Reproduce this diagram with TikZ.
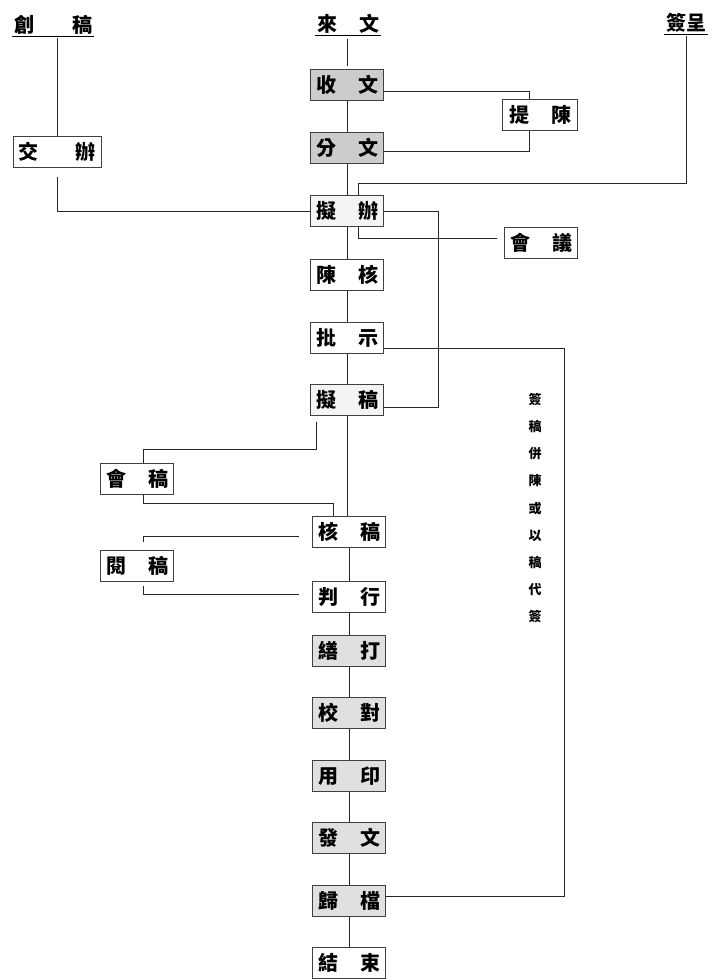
\documentclass[tikz,border=0pt]{standalone}
\usepackage{fontspec}
\setmainfont{Noto Sans CJK TC}
\usetikzlibrary{calc}

\tikzset{
  box/.style={draw=black!75, line width=0.8pt, minimum width=73pt, minimum height=31pt,
              inner sep=0pt, font=\fontsize{20}{20}\selectfont\bfseries},
  head/.style={inner xsep=2pt, inner ysep=1.5pt, font=\fontsize{20}{20}\selectfont\bfseries},
  link/.style={line width=0.7pt, black!85},
  shadeA/.style={fill=gray!40},
  shadeB/.style={fill=gray!24},
  shadeC/.style={fill=gray!9},
}
\newcommand{\pair}[3][22pt]{#2\hspace{#1}#3}

\begin{document}
\begin{tikzpicture}[x=1pt, y=-1pt]
    \useasboundingbox (0,0) rectangle (716,980);

    % ===== 起點 =====
    \node[head] (chuanggao) at (53,25) {\pair[38pt]{創}{稿}};
    \node[head] (laiwen) at (348,24) {\pair{來}{文}};
    \node[head] (qiancheng) at (686,23) {簽呈};
    \foreach \h in {chuanggao,laiwen,qiancheng}
        \draw[line width=1pt] (\h.south west) -- (\h.south east);

    % ===== 主流程 =====
    \node[box, shadeA] (shouwen) at (347,85)  {\pair{收}{文}};
    \node[box, shadeA] (fenwen)  at (347,148) {\pair{分}{文}};
    \node[box, shadeC] (nibian)  at (347,211) {\pair{擬}{辦}};
    \node[box]         (chenhe)  at (347,275) {\pair{陳}{核}};
    \node[box]         (pishi)   at (347,338) {\pair{批}{示}};
    \node[box, shadeC] (nigao)   at (347,400) {\pair{擬}{稿}};
    \node[box]         (hegao)   at (349,532) {\pair{核}{稿}};
    \node[box]         (panxing) at (349,597) {\pair{判}{行}};
    \node[box, shadeB] (shanda)  at (349,651) {\pair{繕}{打}};
    \node[box, shadeB] (jiaodui) at (349,713) {\pair{校}{對}};
    \node[box, shadeB] (yongyin) at (349,776) {\pair{用}{印}};
    \node[box, shadeB] (fawen)   at (349,838) {\pair{發}{文}};
    \node[box, shadeB] (guidang) at (349,901) {\pair{歸}{檔}};
    \node[box]         (jieshu)  at (349,963) {\pair{結}{束}};

    % ===== 旁支 =====
    \node[box, minimum width=88pt] (jiaoban) at (57,152) {\pair[37pt]{交}{辦}};
    \node[box, minimum width=75pt] (tichen)  at (540,115) {\pair{提}{陳}};
    \node[box]                     (huiyi)   at (541,243) {\pair{會}{議}};
    \node[box]                     (huigao)  at (137,479) {\pair{會}{稿}};
    \node[box]                     (yuegao)  at (137,566) {\pair{閱}{稿}};

    % 直排說明
    \node[font=\fontsize{13}{27.2}\selectfont\bfseries, align=center] (note) at (535,508)
        {簽\\稿\\併\\陳\\或\\以\\稿\\代\\簽};

    % ===== 主線 =====
    \draw[link, shorten <=4pt, shorten >=3pt] (laiwen.south -| shouwen.north) -- (shouwen.north);
    \draw[link] (shouwen) -- (fenwen);
    \draw[link] (fenwen) -- (nibian);
    \draw[link] (nibian) -- (chenhe);
    \draw[link] (chenhe) -- (pishi);
    \draw[link] (pishi) -- (nigao);
    \draw[link] (nigao) -- (hegao.north -| nigao);
    \foreach \a/\b in {hegao/panxing, panxing/shanda, shanda/jiaodui, jiaodui/yongyin,
                       yongyin/fawen, fawen/guidang, guidang/jieshu}
        \draw[link] (\a) -- (\b);

    % ===== 分支連線 =====
    \draw[link, shorten <=2pt] (jiaoban.north |- chuanggao.south) -- (jiaoban.north);
    \draw[link, shorten <=9pt] (jiaoban.south) |- (nibian.west);
    \draw[link] ([yshift=-6pt]shouwen.east) -| ([xshift=-11pt]tichen.north);
    \draw[link] ([xshift=-11pt]tichen.south) |- ([yshift=-3pt]fenwen.east);
    \draw[link, shorten <=2pt] (qiancheng.south) -- (qiancheng.south |- 0,183)
        -| ([xshift=11pt]nibian.north);
    \draw[link] (nibian.east) -- ++(54,0) |- ([yshift=-7pt]nigao.east);
    \draw[link, shorten <=7pt] ([yshift=5pt]huiyi.west) -| ([xshift=11pt]nibian.south);
    \draw[link] ([yshift=-10pt]pishi.east) -- ++(180,0) |- ([yshift=5pt]guidang.east);

    % 會稿、閱稿
    \draw[link, shorten <=6pt] ([xshift=-31pt]nigao.south) -- ++(0,33)
        -| ([xshift=6pt]huigao.north);
    \draw[link] ([xshift=6pt]huigao.south) -- ++(0,8) -| ([xshift=-16pt]hegao.north);
    \draw[link, shorten <=13pt, shorten >=8pt] ([yshift=-4pt]hegao.west) -| ([xshift=6pt]yuegao.north);
    \draw[link, shorten <=4pt, shorten >=13pt] ([xshift=6pt]yuegao.south) |- ([yshift=3pt]panxing.west);
\end{tikzpicture}
\end{document}
